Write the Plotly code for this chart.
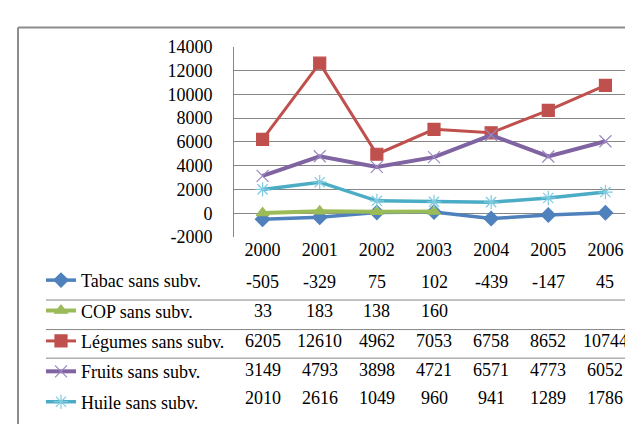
import plotly.graph_objects as go

W, H = 633, 424

years = [2000, 2001, 2002, 2003, 2004, 2005, 2006]
tabac = [-505, -329, 75, 102, -439, -147, 45]
cop = [33, 183, 138, 160, None, None, None]
legumes = [6205, 12610, 4962, 7053, 6758, 8652, 10744]
fruits = [3149, 4793, 3898, 4721, 6571, 4773, 6052]
huile = [2010, 2616, 1049, 960, 941, 1289, 1786]
y_ticks = [-2000, 0, 2000, 4000, 6000, 8000, 10000, 12000, 14000]

names = ['Tabac sans subv.', 'COP sans subv.', 'Légumes sans subv.',
         'Fruits sans subv.', 'Huile sans subv.']
series = [tabac, cop, legumes, fruits, huile]

# line colour, marker colour, symbol, marker size, line width
styles = [
    ('#4F81BD', '#4F81BD', 'diamond', 11, 3.5),
    ('#9BBB59', '#9BBB59', 'triangle-up', 11, 4),
    ('#C0504D', '#C0504D', 'square', 12, 3),
    ('#8064A2', '#9C88C0', 'x-thin-open', 12, 4),
    ('#4BACC6', '#7FCBE0', 'asterisk-open', 12, 3.5),
]

FONT = 'Liberation Serif, Times New Roman, serif'
FS = 18


def px_x(x):
    return x / W


def px_y(y):
    return (H - y) / H


fig = go.Figure()
for name, vals, (lc, mc, sym, ms, lw) in zip(names, series, styles):
    fig.add_trace(go.Scatter(
        x=years, y=vals, name=name, legendgroup=name, mode='lines+markers',
        line=dict(color=lc, width=lw),
        marker=dict(symbol=sym, size=ms, color=mc, line=dict(color=mc, width=1.2)),
    ))

# data table values under the plot (one row per series)
row_y = [277, 308, 339, 369, 399]
annotations = []
for vals, ry in zip(series, row_y):
    for yr, v in zip(years, vals):
        if v is None:
            continue
        annotations.append(dict(
            x=yr, xref='x', y=px_y(ry), yref='paper', text=str(v),
            showarrow=False, xanchor='center', yanchor='middle',
            font=dict(family=FONT, size=FS, color='black'),
        ))

shapes = [
    # outer frame
    dict(type='line', xref='paper', yref='paper', x0=px_x(10), x1=1.05,
         y0=px_y(10), y1=px_y(10), line=dict(color='#8C8C8C', width=2)),
    dict(type='line', xref='paper', yref='paper', x0=px_x(10), x1=px_x(10),
         y0=px_y(10), y1=-0.05, line=dict(color='#8C8C8C', width=2)),
]
for sy in [296, 327, 357]:
    shapes.append(dict(type='line', xref='paper', yref='paper',
                       x0=px_x(38), x1=px_x(626), y0=px_y(sy), y1=px_y(sy),
                       line=dict(color='#868686', width=1)))

fig.update_layout(
    width=W, height=H,
    margin=dict(l=0, r=0, t=0, b=0),
    paper_bgcolor='white', plot_bgcolor='white',
    font=dict(family=FONT, size=FS, color='black'),
    showlegend=True,
    legend=dict(x=px_x(33), y=px_y(256), xanchor='left', yanchor='top',
                font=dict(family=FONT, size=FS), tracegroupgap=4,
                traceorder='grouped', bgcolor='rgba(0,0,0,0)'),
    xaxis=dict(domain=[px_x(226), px_x(626)], range=[1999.5, 2006.5],
               tickmode='array', tickvals=years, ticktext=[str(y) for y in years],
               showgrid=False, showline=False, ticks='', zeroline=False,
               ticklabelstandoff=0, tickfont=dict(family=FONT, size=FS)),
    yaxis=dict(domain=[px_y(230), px_y(30)], range=[-2000, 14000],
               tickmode='array', tickvals=y_ticks, ticktext=[str(v) for v in y_ticks],
               showgrid=True, gridcolor='#868686', gridwidth=1,
               zeroline=True, zerolinecolor='#868686', zerolinewidth=1,
               showline=True, linecolor='#868686', linewidth=1,
               ticks='', ticklabelstandoff=17,
               tickfont=dict(family=FONT, size=FS)),
    annotations=annotations,
    shapes=shapes,
)

fig.write_html('out.html')
